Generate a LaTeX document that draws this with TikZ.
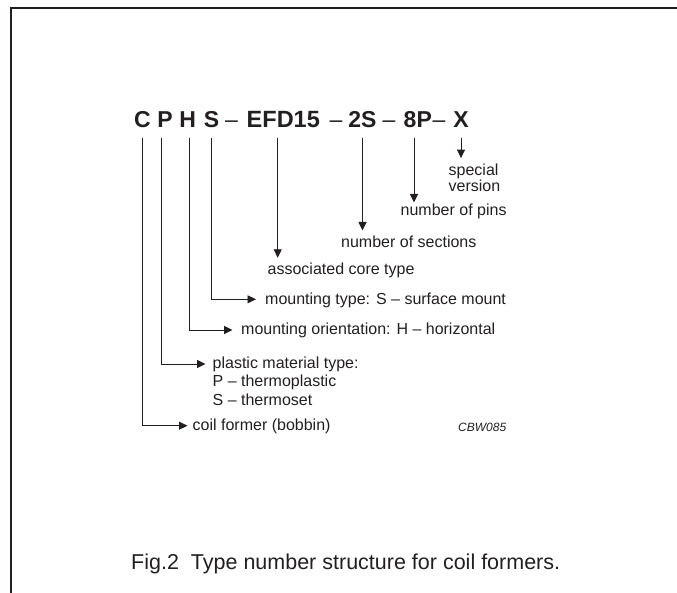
\documentclass[tikz,border=0pt]{standalone}
\usepackage{fontspec}
\setmainfont{Liberation Sans}
\usetikzlibrary{arrows.meta}
\definecolor{ink}{HTML}{231F20}

\begin{document}
\begin{tikzpicture}[x=1pt,y=-1pt,
    codepart/.style={font=\fontsize{23}{23}\selectfont\bfseries, text=ink, inner xsep=0pt, inner ysep=10pt, text depth=0pt, anchor=base},
    dashpart/.style={codepart, font=\fontsize{23}{23}\selectfont},
    lbl/.style={font=\fontsize{16}{18}\selectfont, text=ink, inner sep=0pt, text height=10pt, text depth=0pt, anchor=base west},
    pointer/.style={draw=ink, line width=0.9pt, -{Triangle[length=8.5pt,width=8pt]}}]
    \useasboundingbox (0,0) rectangle (677,593);

    % Frame
    \draw[ink, line width=2pt] (10.5,593) -- (10.5,8) -- (677,8);

    % Type number
    \node[codepart] (C) at (142.5,127.5) {C};
    \node[codepart] (P) at (165,127.5) {P};
    \node[codepart] (H) at (187.8,127.5) {H};
    \node[codepart] (S) at (211.5,127.5) {S};
    \node[dashpart] (d1) at (231.5,127.5) {–};
    \node[codepart, font=\fontsize{23.5}{23.5}\selectfont\bfseries] (efd) at (283.3,127.5) {EFD15};
    \node[dashpart] (d2) at (336,127.5) {–};
    \node[codepart] (sec2) at (362.5,127.5) {2S};
    \node[dashpart] (d3) at (389,127.5) {–};
    \node[codepart] (pin8) at (417.8,127.5) {8P};
    \node[dashpart] (d4) at (439,127.5) {–};
    \node[codepart] (X) at (461,127.5) {X};

    % Labels
    \node[lbl] (spec) at (448.5,176) {special};
    \node[lbl] (vers) at (448.5,191.7) {version};
    \node[lbl] (pins) at (400.5,216) {number of pins};
    \node[lbl] (sec) at (341,247.3) {number of sections};
    \node[lbl] (core) at (267.5,274.3) {associated core type};
    \node[lbl] (mtype) at (265,304.3) {mounting type: S – surface mount};
    \node[lbl] (morient) at (241,335) {mounting orientation: H – horizontal};
    \node[lbl] (plast) at (212.5,369) {plastic material type:};
    \node[lbl] (plastP) at (212.5,386.7) {P – thermoplastic};
    \node[lbl] (plastS) at (212.5,405) {S – thermoset};
    \node[lbl] (coil) at (192.5,430.7) {coil former (bobbin)};
    \node[lbl, font=\fontsize{12}{12}\selectfont\itshape] (ref) at (458,431) {CBW085};

    % Vertical pointers
    \draw[pointer, shorten >=7.7pt] (X.south) -- (X.south |- spec.north);
    \draw[pointer, shorten >=3.3pt] ([xshift=-3.8pt]pin8.south) -- ([xshift=-3.8pt]pin8.south |- pins.north);
    \draw[pointer, shorten >=6.6pt] (sec2.south) -- (sec2.south |- sec.north);
    \draw[pointer, shorten >=6.3pt] ([xshift=-5.6pt]efd.south) -- ([xshift=-5.6pt]efd.south |- core.north);

    % Bent pointers
    \draw[pointer, shorten >=9pt] (S.south) |- (mtype.west);
    \draw[pointer, shorten >=8.5pt] ([xshift=1.2pt]H.south) |- (morient.west);
    \draw[pointer, shorten >=7pt] ([xshift=-3.3pt]P.south) |- (plast.west);
    \draw[pointer, shorten >=5pt] (C.south) |- (coil.west);

    % Caption
    \node[lbl, font=\fontsize{21.5}{22}\selectfont] (caption) at (131,569.3) {Fig.2\ \ Type number structure for coil formers.};

\end{tikzpicture}
\end{document}
